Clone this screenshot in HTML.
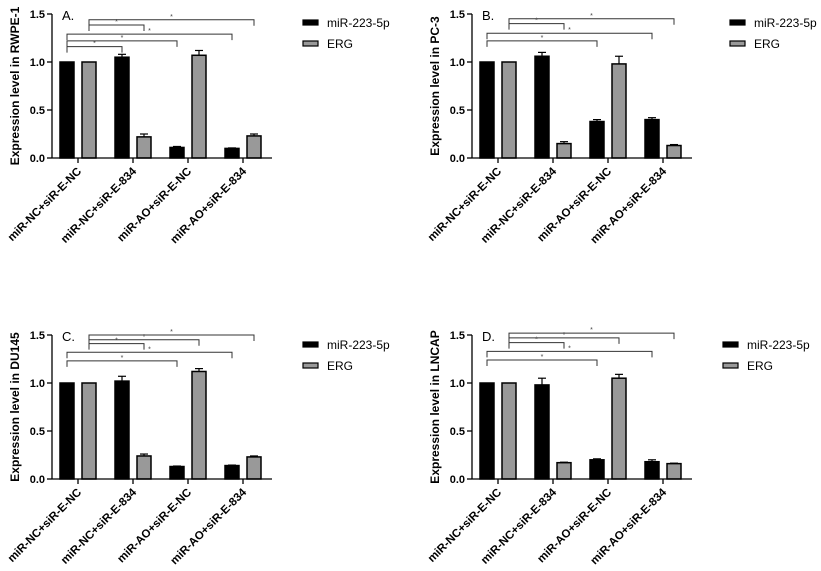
<!DOCTYPE html>
<html><head><meta charset="utf-8"><style>
body{margin:0;background:#fff;}
svg{display:block;font-family:"Liberation Sans",sans-serif;}
</style></head><body>
<svg id="c" width="821" height="571" viewBox="0 0 821 571"></svg>
<script>
const categories=["miR-NC+siR-E-NC","miR-NC+siR-E-834","miR-AO+siR-E-NC","miR-AO+siR-E-834"];
const panelLetters=["A.","B.","C.","D."];
const panelTitles=["Expression level in RWPE-1","Expression level in PC-3","Expression level in DU145","Expression level in LNCAP"];
const mirValues=[[1,1.05,0.11,0.10],[1,1.06,0.38,0.40],[1,1.02,0.13,0.14],[1,0.98,0.20,0.18]];
const mirErr=[[0,0.03,0.01,0.005],[0,0.04,0.02,0.02],[0,0.05,0.005,0.005],[0,0.07,0.01,0.02]];
const ergValues=[[1,0.22,1.07,0.23],[1,0.15,0.98,0.13],[1,0.24,1.12,0.23],[1,0.17,1.05,0.16]];
const ergErr=[[0,0.03,0.05,0.02],[0,0.02,0.08,0.01],[0,0.02,0.03,0.01],[0,0.005,0.04,0.005]];
const yTicks=[0,0.5,1.0,1.5];
const yTickLabels=["0.0","0.5","1.0","1.5"];
// brackets: [series(0 mir,1 erg) start group 0, target group, level]
const brackets=[
 [[1,3,1.44],[1,1,1.385],[0,3,1.29],[0,2,1.22],[0,1,1.16]],
 [[1,3,1.45],[1,1,1.40],[0,3,1.30],[0,2,1.22]],
 [[1,3,1.50],[1,2,1.45],[1,1,1.41],[0,3,1.32],[0,2,1.23]],
 [[1,3,1.52],[1,2,1.47],[1,1,1.42],[0,3,1.33],[0,2,1.24]]
];
const origins=[[52,158],[472,158],[52,479],[472,479]];
const legendPos=[[303,20],[730,20],[303,342],[723,342]];
const NS="http://www.w3.org/2000/svg";
const svg=document.getElementById('c');
function mk(tag,attrs,parent,text){const e=document.createElementNS(NS,tag);for(const k in attrs)e.setAttribute(k,attrs[k]);if(text!==undefined)e.textContent=text;(parent||svg).appendChild(e);return e;}
for(let p=0;p<4;p++){
 const [x0,y0]=origins[p];
 const g=mk('g',{});
 
 
 const yS=v=>y0-v*96;
 const xB=i=>x0+8+55*i;
 const xG=i=>x0+30+55*i;
 for(let i=0;i<4;i++){
  const bars=[[xB(i),mirValues[p][i],mirErr[p][i],'#000','mir'],[xG(i),ergValues[p][i],ergErr[p][i],'#999','erg']];
  for(const [bx,v,er,col,nm] of bars){
   const cx=bx+7;
   if(er>0){mk('line',{x1:cx,x2:cx,y1:yS(v),y2:yS(v+er),stroke:'#000','stroke-width':1.2},g);
    mk('line',{x1:cx-4,x2:cx+4,y1:yS(v+er),y2:yS(v+er),stroke:'#000','stroke-width':1.2},g);}
   const r=mk('rect',{x:bx,y:yS(v),width:14,height:v*96,fill:col,stroke:'#000','stroke-width':1.5},g);
   
   
  }
 }
 const ya=mk('line',{x1:x0,x2:x0,y1:yS(1.5),y2:y0,stroke:'#000','stroke-width':1.3},g);
 
 const xa=mk('line',{x1:x0,x2:x0+220,y1:y0,y2:y0,stroke:'#000','stroke-width':1.3},g);
 
 yTicks.forEach((t,k)=>{
  mk('line',{x1:x0-5,x2:x0,y1:yS(t),y2:yS(t),stroke:'#000','stroke-width':1.3},g);
  const tl=mk('text',{x:x0-7,y:yS(t)+4,'text-anchor':'end','font-size':11,'font-weight':'bold'},g,yTickLabels[k]);
  
 });
 categories.forEach((c,i)=>{
  const tx=x0+26+55*i;
  mk('line',{x1:tx,x2:tx,y1:y0,y2:y0+5,stroke:'#000','stroke-width':1.3},g);
  const lb=mk('text',{x:tx+4,y:y0+14,'text-anchor':'end','font-size':11.5,'font-weight':'bold',transform:`rotate(-45 ${tx+4} ${y0+14})`},g,c);
  
 });
 const yt=mk('text',{x:0,y:0,'text-anchor':'middle','font-size':12,'font-weight':'bold',transform:`translate(${x0-33} ${yS(0.75)}) rotate(-90)`},g,panelTitles[p]);
 
 const pl=mk('text',{x:x0+10,y:yS(1.5)+6,'font-size':13},g,panelLetters[p]);
 
 for(const [s,t,lv] of brackets[p]){
  const xa1=(s?xG(0):xB(0))+7, xa2=(s?xG(t):xB(t))+7, yy=yS(lv);
  const br=mk('path',{d:`M${xa1} ${yy+6}V${yy}H${xa2}V${yy+6}`,fill:'none',stroke:'#333','stroke-width':1},g);
  
  mk('text',{x:(xa1+xa2)/2,y:yy-1,'text-anchor':'middle','font-size':7,fill:'#444'},g,'*');
 }
 const [lx,ly]=legendPos[p];
 const lg=mk('g',{},g);
 
 const e1=mk('rect',{x:lx,y:ly,width:15,height:5,fill:'#000',stroke:'#000','stroke-width':1.2},lg);
 
 mk('text',{x:lx+24,y:ly+7,'font-size':12},lg,'miR-223-5p');
 const e2=mk('rect',{x:lx,y:ly+21,width:15,height:5,fill:'#999',stroke:'#000','stroke-width':1.2},lg);
 
 mk('text',{x:lx+24,y:ly+28,'font-size':12},lg,'ERG');
}
</script>
</body></html>
